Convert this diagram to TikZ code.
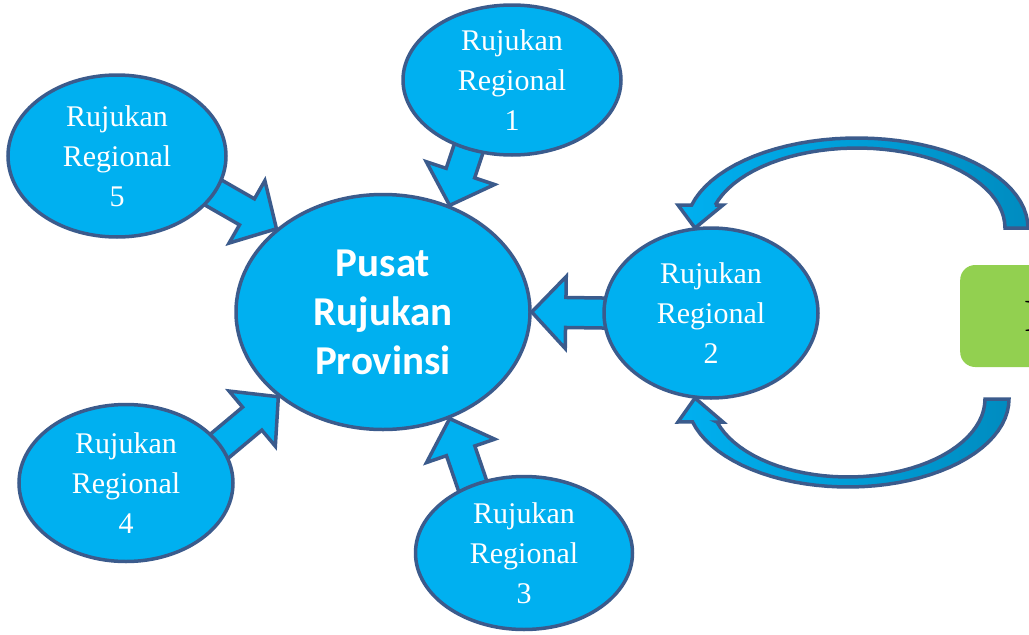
\documentclass[tikz,border=0pt]{standalone}
\usepackage{fontspec}
\setmainfont{Liberation Serif}
\newfontfamily\hubfont{Carlito}
\usetikzlibrary{calc,shapes.geometric}
\definecolor{skyfill}{RGB}{0,176,240}
\definecolor{skydeep}{RGB}{0,140,192}
\definecolor{rimblue}{RGB}{59,91,140}
\definecolor{boxgreen}{RGB}{146,208,80}
\tikzset{
  region/.style={ellipse,draw=rimblue,line width=3.5pt,fill=skyfill,text=white,
    align=center,inner sep=0pt,font=\fontsize{30}{40}\selectfont},
  hub/.style={region,font=\hubfont\bfseries\fontsize{41}{49}\selectfont},
  flow/.style={draw=rimblue,line width=3.5pt,fill=skyfill,line join=miter},
  loopflow/.style={draw=rimblue,line width=3.5pt,left color=skyfill,
    right color=skydeep,line join=miter},
  sidebox/.style={rectangle,rounded corners=15pt,fill=boxgreen,minimum height=102pt,
    text width=80pt,inner xsep=64pt,align=left,font=\fontsize{46}{50}\selectfont}
}
\pgfdeclarelayer{back}
\pgfsetlayers{back,main}
% block arrow from #1 to #2, tail tucked under #1
\newcommand{\blockarrow}[2]{%
  \begin{pgfonlayer}{back}
  \draw[flow] let \p1=(#1), \p2=(#2),
      \n1={atan2(\y2-\y1,\x2-\x1)}, \n2={veclen(\x2-\x1,\y2-\y1)} in
    ($(\p1)+({\n1}:-20pt)+({\n1+90}:15pt)$)
    -- ($(\p1)+({\n1}:{\n2-34pt})+({\n1+90}:15pt)$)
    -- ($(\p1)+({\n1}:{\n2-34pt})+({\n1+90}:36pt)$)
    -- (\p2)
    -- ($(\p1)+({\n1}:{\n2-34pt})+({\n1-90}:36pt)$)
    -- ($(\p1)+({\n1}:{\n2-34pt})+({\n1-90}:15pt)$)
    -- ($(\p1)+({\n1}:-20pt)+({\n1-90}:15pt)$) -- cycle;
  \end{pgfonlayer}}

\begin{document}
\begin{tikzpicture}[x=1pt,y=-1pt]
  \useasboundingbox (0,0) rectangle (1029,635);
  \clip (0,0) rectangle (1029,635);
  \node[hub,minimum width=294pt,minimum height=235pt] (pusat) at (383,312) {Pusat\\Rujukan\\Provinsi};
  \node[region,minimum width=218pt,minimum height=150pt] (reg1) at (512,80) {Rujukan\\Regional\\1};
  \node[region,minimum width=214pt,minimum height=170pt] (reg2) at (711,313) {Rujukan\\Regional\\2};
  \node[region,minimum width=217pt,minimum height=153pt] (reg3) at (524,553) {Rujukan\\Regional\\3};
  \node[region,minimum width=214pt,minimum height=157pt] (reg4) at (126,483) {Rujukan\\Regional\\4};
  \node[region,minimum width=218pt,minimum height=162pt] (reg5) at (117,156) {Rujukan\\Regional\\5};
  \node[sidebox,anchor=west] (side) at (960,316) {R};

  \blockarrow{reg1.238}{pusat.58}
  \blockarrow{reg2.180}{pusat.0}
  \blockarrow{reg3.127}{pusat.302}
  \blockarrow{reg4.22}{pusat.219}
  \blockarrow{reg5.339}{pusat.142}

  % curved arrows round reg2
  \draw[loopflow] (1028,228)
    -- plot[domain=0:-165.2,samples=40] ({857+171*cos(\x)},{228+90*sin(\x)})
    -- (678,205) -- (695,228) -- (723,205) -- (715,205)
    -- plot[domain=-163.3:0,samples=40] ({857+148*cos(\x)},{228+80*sin(\x)})
    -- cycle;
  \draw[loopflow] (1009,399)
    -- plot[domain=0:165,samples=40] ({848+161*cos(\x)},{399+88*sin(\x)})
    -- (678,422) -- (695,398) -- (723,422) -- (717,422)
    -- plot[domain=162.8:0,samples=40] ({848+137*cos(\x)},{399+78*sin(\x)})
    -- cycle;
\end{tikzpicture}
\end{document}
